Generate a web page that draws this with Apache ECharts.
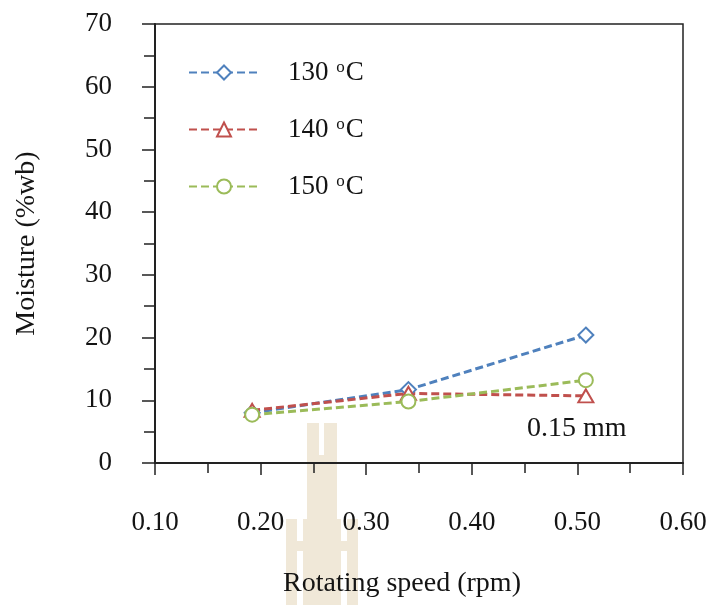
<!DOCTYPE html>
<html>
<head>
<meta charset="utf-8">
<title>Moisture vs rotating speed</title>
<script src="https://cdn.jsdelivr.net/npm/echarts@6/dist/echarts.min.js"></script>
<style>
  html, body { margin: 0; padding: 0; background: #fff; }
  #chart { width: 713px; height: 605px; }
</style>
</head>
<body>
<div id="chart"></div>
<script>
// Rotating speed (rpm) for each run
const speeds = [0.192, 0.340, 0.508];
// Moisture content (%wb) at each drying temperature
const moisture130 = [8.0, 11.7, 20.4];
const moisture140 = [8.4, 11.1, 10.7];
const moisture150 = [7.7, 9.8, 13.2];
const seriesNames = ['130 °C', '140 °C', '150 °C'];
const xTicks = [0.10, 0.20, 0.30, 0.40, 0.50, 0.60];
const yTicks = [0, 10, 20, 30, 40, 50, 60, 70];
const noteText = '0.15 mm';

const FONT = '"Liberation Serif", "Times New Roman", serif';
const INK = '#141414';
const AXIS = '#222';
const colors = ['#4F81BD', '#C0504D', '#9BBB59'];

const pairs = (ys) => speeds.map((x, i) => [x, ys[i]]);

function makeSeries(name, ys, color, symbol, size) {
  return {
    name: name,
    type: 'line',
    data: pairs(ys),
    symbol: symbol,
    symbolSize: size,
    showSymbol: true,
    color: color,
    lineStyle: { color: color, width: 3, type: [8, 4] },
    itemStyle: { color: color, borderColor: color, borderWidth: 2.4, opacity: 1 },
    emphasis: { disabled: true },
    z: 3
  };
}

const chart = echarts.init(document.getElementById('chart'), null, { renderer: 'canvas' });

// Light emblem behind the lower axis area
const TAN = '#F0E8D8';
const emblem = [
  { type: 'rect', shape: { x: 307, y: 423, width: 30, height: 182 } },
  { type: 'rect', shape: { x: 286, y: 519, width: 11, height: 86 } },
  { type: 'rect', shape: { x: 297, y: 541, width: 10, height: 10 } },
  { type: 'rect', shape: { x: 303, y: 519, width: 4, height: 86 } },
  { type: 'rect', shape: { x: 347, y: 519, width: 11, height: 86 } },
  { type: 'rect', shape: { x: 337, y: 541, width: 10, height: 10 } },
  { type: 'rect', shape: { x: 337, y: 519, width: 4, height: 86 } }
].map(e => Object.assign(e, { style: { fill: TAN }, z: -5, silent: true }));
emblem.push({ type: 'rect', shape: { x: 319, y: 423, width: 5, height: 32 },
  style: { fill: '#fff' }, z: -4, silent: true });

chart.setOption({
  animation: false,
  backgroundColor: '#fff',
  textStyle: { fontFamily: FONT, color: INK },
  grid: {
    left: 155, right: 30, top: 24, bottom: 142,
    show: true, borderColor: AXIS, borderWidth: 1.5, backgroundColor: 'transparent'
  },
  legend: {
    orient: 'vertical',
    left: 188,
    top: 59,
    padding: 0,
    itemWidth: 70,
    itemHeight: 17.5,
    itemGap: 30,
    selectedMode: false,
    data: seriesNames,
    textStyle: {
      fontFamily: FONT, fontSize: 27, color: INK,
      rich: {
        g: { width: 24, fontSize: 27 },
        s: { fontSize: 17, verticalAlign: 'top', fontFamily: FONT, color: INK, padding: [0, 1, 0, 1] }
      }
    },
    formatter: (n) => '{g|}' + n.replace(' °C', ' {s|o}C')
  },
  xAxis: {
    type: 'value',
    min: xTicks[0],
    max: xTicks[xTicks.length - 1],
    interval: 0.1,
    name: 'Rotating speed (rpm)',
    nameLocation: 'middle',
    nameGap: 107,
    nameTextStyle: { fontFamily: FONT, fontSize: 28, color: INK, padding: [0, 34, 0, 0] },
    axisLine: { show: true, onZero: false, lineStyle: { color: AXIS, width: 2 } },
    axisTick: { show: true, length: 12, lineStyle: { color: AXIS, width: 1.5 } },
    minorTick: { show: true, splitNumber: 2, length: 10, lineStyle: { color: AXIS, width: 1.5 } },
    axisLabel: {
      margin: 46, fontFamily: FONT, fontSize: 27, color: INK,
      formatter: (v) => xTicks.find(t => Math.abs(t - v) < 1e-9).toFixed(2)
    },
    splitLine: { show: false }
  },
  yAxis: {
    type: 'value',
    min: yTicks[0],
    max: yTicks[yTicks.length - 1],
    interval: 10,
    name: 'Moisture (%wb)',
    nameLocation: 'middle',
    nameGap: 114,
    nameTextStyle: { fontFamily: FONT, fontSize: 28, color: INK },
    axisLine: { show: true, onZero: false, lineStyle: { color: AXIS, width: 2 } },
    axisTick: { show: true, length: 13, lineStyle: { color: AXIS, width: 1.5 } },
    minorTick: { show: true, splitNumber: 2, length: 11, lineStyle: { color: AXIS, width: 1.5 } },
    axisLabel: { margin: 43, fontFamily: FONT, fontSize: 27, color: INK },
    splitLine: { show: false }
  },
  graphic: { elements: emblem.concat([
    {
      type: 'text', left: 527, top: 415, z: 10, silent: true,
      style: { text: noteText, fontFamily: FONT, fontSize: 28, fill: INK }
    }
  ]) },
  series: [
    makeSeries(seriesNames[0], moisture130, colors[0], 'emptyDiamond', 15),
    makeSeries(seriesNames[1], moisture140, colors[1], 'emptyTriangle', [15, 13]),
    makeSeries(seriesNames[2], moisture150, colors[2], 'emptyCircle', 14)
  ]
});
</script>
</body>
</html>
